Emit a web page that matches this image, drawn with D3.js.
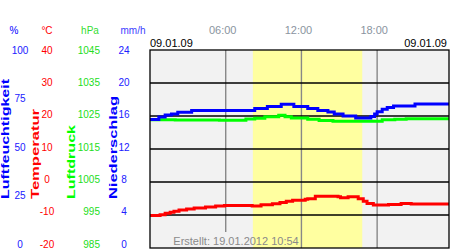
<!DOCTYPE html>
<html><head><meta charset="utf-8">
<script src="https://cdn.jsdelivr.net/npm/d3@7"></script>
<style>body{margin:0;background:#fff}svg{display:block;font-family:Arial,"Liberation Sans",sans-serif}</style>
</head><body><svg id="c" width="450" height="250"></svg>
<script>
// ---- data ----
const humHours = [0,0.7,1.2,1.7,2.2,3.3,8.3,9.3,10.4,11.4,12.5,13.3,14.1,14.6,15.3,16.3,17.5,17.8,18.0,18.4,18.8,19.3,21.0,23.75];
const humidity = [64.9,66.2,67.2,67.7,68.5,69.4,70.5,71.5,72.6,71.5,70.5,69.4,68.7,67.7,66.7,65.7,66.4,67.7,68.8,70.1,70.9,71.7,72.7,72.7];
const tempHours = [0,0.8,1.2,1.6,1.9,2.3,2.9,3.5,4.4,5.2,5.9,8.1,8.8,9.7,10.3,10.8,11.3,12.3,12.5,13.1,14.9,15.1,15.7,16.5,16.9,17.2,17.7,18.9,19.9,20.7,23.75];
const temperature = [-10.15,-9.9,-9.5,-9.2,-8.9,-8.5,-8.2,-7.9,-7.6,-7.3,-7.1,-7.3,-6.9,-6.6,-6.2,-5.8,-5.5,-5.2,-5.1,-4.3,-4.5,-4.8,-4.5,-5.1,-5.8,-6.5,-7.0,-6.8,-6.5,-6.7,-6.7];
const presHours = [0,2,5.5,7.6,8.3,9.1,10.2,10.7,11.2,12.5,13.4,14.5,18.4,19.4,20.3,23.75];
const pressure = [1023.9,1023.8,1023.7,1024.1,1024.3,1024.8,1025.2,1024.8,1024.4,1024.0,1023.6,1023.4,1023.9,1024.0,1024.2,1024.2];
const precipitation = []; // no precipitation
const daylight = [8.15, 16.82];
const timeTicks = [6, 12, 18];
const timeLabels = ["06:00", "12:00", "18:00"];
const humTicks = [100, 75, 50, 25, 0];
const tempTicks = [40, 30, 20, 10, 0, -10, -20];
const presTicks = [1045, 1035, 1025, 1015, 1005, 995, 985];
const precTicks = [24, 20, 16, 12, 8, 4, 0];
const dateLeft = "09.01.09", dateRight = "09.01.09";
const created = "Erstellt: 19.01.2012 10:54";

// ---- layout ----
const svg = d3.select("#c");
const L = 150, R = 449, T = 50, B = 248;
const x = d3.scaleLinear().domain([0, 23.75]).range([L, 449.7]);
const yHum = d3.scaleLinear().domain([0, 100]).range([B, T]);
const yTemp = d3.scaleLinear().domain([-20, 40]).range([B, T]);
const yPres = d3.scaleLinear().domain([985, 1045]).range([B, T]);
const yPrec = d3.scaleLinear().domain([0, 24]).range([B, T]);
const lab = d3.scaleLinear().domain([0, 1]).range([244, 50]);

const BLUE = "#0000ff", RED = "#ff0000", GREEN = "#00ff00";

svg.append("rect").attr("x", L).attr("y", T).attr("width", R - L).attr("height", B - T).attr("fill", "#f2f2f2");
svg.append("rect").attr("x", x(daylight[0])).attr("y", T).attr("width", x(daylight[1]) - x(daylight[0])).attr("height", B - T).attr("fill", "#ffffa0");

const boxTop = 232, boxL = 174, boxR = 298;

svg.append("g").selectAll("line").data(timeTicks).join("line")
  .attr("x1", d => x(d)).attr("x2", d => x(d)).attr("y1", T)
  .attr("y2", d => (x(d) > boxL && x(d) < boxR) ? boxTop : B)
  .attr("stroke", "#888").attr("stroke-width", 1.4);

svg.append("g").selectAll("line").data(tempTicks.slice(1, -1)).join("line")
  .attr("x1", L).attr("x2", R).attr("y1", d => yTemp(d)).attr("y2", d => yTemp(d))
  .attr("stroke", "#000").attr("stroke-width", 1.3);

svg.append("clipPath").attr("id", "clip").append("rect").attr("x", L).attr("y", T).attr("width", R - L).attr("height", B - T);
const plot = svg.append("g").attr("clip-path", "url(#clip)");

plot.selectAll("rect.p").data(precipitation).join("rect").attr("class", "p")
  .attr("x", d => x(d[0])).attr("width", 3).attr("y", d => yPrec(d[1])).attr("height", d => B - yPrec(d[1])).attr("fill", BLUE);

function drawLine(hours, vals, y, color) {
  const line = d3.line().x(d => x(d[0])).y(d => y(d[1])).curve(d3.curveStepAfter);
  plot.append("path").datum(hours.map((h, i) => [h, vals[i]])).attr("d", line)
    .attr("fill", "none").attr("stroke", color).attr("stroke-width", 3);
}
drawLine(presHours, pressure, yPres, GREEN);
drawLine(humHours, humidity, yHum, BLUE);
drawLine(tempHours, temperature, yTemp, RED);

svg.append("rect").attr("x", L).attr("y", T).attr("width", R - L).attr("height", B - T)
  .attr("fill", "none").attr("stroke", "#000").attr("stroke-width", 1.3);

svg.append("text").attr("x", 236).attr("y", 245).attr("text-anchor", "middle")
  .attr("font-size", 11).attr("fill", "#8a8a8a").text(created);

svg.append("g").selectAll("text").data(timeTicks).join("text")
  .attr("x", d => x(d) - 3).attr("y", 34).attr("text-anchor", "middle")
  .attr("font-size", 11).attr("fill", "#8a94a0").text((d, i) => timeLabels[i]);

svg.append("text").attr("x", L).attr("y", 47).attr("font-size", 11).attr("fill", "#000").text(dateLeft);
svg.append("text").attr("x", 447).attr("y", 47).attr("text-anchor", "end").attr("font-size", 11).attr("fill", "#000").text(dateRight);

const units = [["%", 14, BLUE], ["°C", 47, RED], ["hPa", 90, "#33dd33"], ["mm/h", 133, "#4040ff"]];
svg.append("g").selectAll("text").data(units).join("text")
  .attr("x", d => d[1]).attr("y", 34).attr("text-anchor", "middle").attr("font-size", 10)
  .attr("fill", d => d[2]).text(d => d[0]);

function ticks(arr, cx, color, anchor) {
  const n = arr.length - 1;
  svg.append("g").selectAll("text").data(arr).join("text")
    .attr("x", cx).attr("y", (d, i) => lab(1 - i / n)).attr("dy", "0.35em")
    .attr("text-anchor", anchor || "middle").attr("font-size", 10).attr("fill", color).text(d => d);
}
ticks(humTicks, 20, "#2020ff");
ticks(tempTicks, 47, RED);
ticks(presTicks, 100, "#22dd22", "end");
ticks(precTicks, 124, "#2020ff");

const titles = [["Luftfeuchtigkeit", 8.5, 120, BLUE], ["Temperatur", 38.5, 90, RED], ["Luftdruck", 75, 74, GREEN], ["Niederschlag", 116.5, 103, BLUE]];
svg.append("g").selectAll("text").data(titles).join("text")
  .attr("transform", d => `translate(${d[1]},199) rotate(-90)`)
  .attr("font-size", 11).attr("font-weight", "bold").attr("fill", d => d[3])
  .attr("textLength", d => d[2]).attr("lengthAdjust", "spacingAndGlyphs").text(d => d[0]);
</script></body></html>
